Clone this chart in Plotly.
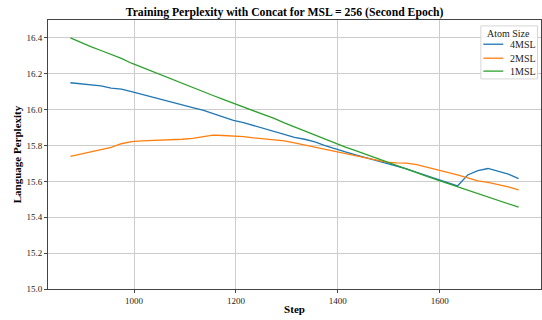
import plotly.graph_objects as go

# Training steps (second epoch)
steps = [875, 895, 915, 935, 955, 975, 995, 1015, 1035, 1055, 1075, 1095, 1115,
         1135, 1155, 1175, 1195, 1215, 1235, 1255, 1275, 1295, 1315, 1335, 1355,
         1375, 1395, 1415, 1435, 1455, 1475, 1495, 1515, 1535, 1555, 1575, 1595,
         1615, 1635, 1655, 1675, 1695, 1715, 1735, 1755]

# Language perplexity per atom size
ppl_4msl = [16.150, 16.145, 16.140, 16.133, 16.120, 16.114, 16.100, 16.086, 16.072,
            16.058, 16.042, 16.027, 16.012, 15.997, 15.978, 15.958, 15.940, 15.928,
            15.912, 15.895, 15.878, 15.860, 15.845, 15.835, 15.820, 15.800, 15.780,
            15.764, 15.748, 15.733, 15.718, 15.703, 15.686, 15.670, 15.651, 15.632,
            15.611, 15.596, 15.575, 15.636, 15.660, 15.672, 15.655, 15.640, 15.615]

ppl_2msl = [15.740, 15.752, 15.765, 15.775, 15.790, 15.810, 15.822, 15.826, 15.828,
            15.829, 15.832, 15.835, 15.840, 15.850, 15.858, 15.856, 15.854, 15.850,
            15.843, 15.838, 15.835, 15.826, 15.815, 15.803, 15.793, 15.782, 15.770,
            15.757, 15.745, 15.733, 15.722, 15.707, 15.703, 15.702, 15.693, 15.680,
            15.664, 15.652, 15.637, 15.620, 15.603, 15.595, 15.584, 15.570, 15.553]

ppl_1msl = [16.400, 16.374, 16.352, 16.330, 16.308, 16.286, 16.259, 16.236, 16.214,
            16.193, 16.170, 16.146, 16.122, 16.101, 16.079, 16.057, 16.036, 16.017,
            15.996, 15.975, 15.951, 15.926, 15.903, 15.880, 15.858, 15.834, 15.811,
            15.791, 15.771, 15.750, 15.730, 15.709, 15.688, 15.667, 15.648, 15.628,
            15.609, 15.590, 15.570, 15.550, 15.529, 15.513, 15.495, 15.476, 15.456]

series_names = ["4MSL", "2MSL", "1MSL"]
series_colors = ["#1f77b4", "#ff7f0e", "#2ca02c"]
legend_title = "Atom Size"

serif = "Liberation Serif, Times New Roman, serif"

fig = go.Figure()
for name, vals, color in zip(series_names, [ppl_4msl, ppl_2msl, ppl_1msl], series_colors):
    fig.add_trace(go.Scatter(x=steps, y=vals, mode="lines", name=name, showlegend=False,
                             line=dict(color=color, width=1.3)))

# Compact legend box drawn in paper coordinates (top-right of the plot area)
shapes = [dict(type="rect", xref="paper", yref="paper",
               x0=0.878, x1=0.993, y0=0.781, y1=0.978,
               line=dict(color="#d6d6d6", width=1), fillcolor="rgba(255,255,255,0.85)",
               layer="above")]
annotations = [dict(text=legend_title, xref="paper", yref="paper", x=0.935, y=0.951,
                    xanchor="center", yanchor="middle", showarrow=False,
                    font=dict(family=serif, size=10, color="#222"))]
entry_y = [0.910, 0.858, 0.810]
for name, color, ey in zip(series_names, series_colors, entry_y):
    shapes.append(dict(type="line", xref="paper", yref="paper", x0=0.883, x1=0.9235,
                       y0=ey, y1=ey, line=dict(color=color, width=1.3), layer="above"))
    annotations.append(dict(text=name, xref="paper", yref="paper", x=0.933, y=ey,
                            xanchor="left", yanchor="middle", showarrow=False,
                            font=dict(family=serif, size=10, color="#222")))

fig.update_layout(
    width=542, height=320,
    margin=dict(l=48, r=1, t=20, b=31),
    plot_bgcolor="white", paper_bgcolor="white",
    font=dict(family=serif, size=9, color="#222"),
    title=dict(text="<b>Training Perplexity with Concat for MSL = 256 (Second Epoch)</b>",
               x=0.525, xanchor="center", y=1 - 12 / 320, yanchor="middle",
               yref="container", font=dict(family=serif, size=11.7, color="black")),
    shapes=shapes,
    annotations=annotations,
)

axis_common = dict(showline=True, linecolor="#444", linewidth=1, mirror=True,
                   showgrid=True, gridcolor="#cccccc", gridwidth=1,
                   ticks="outside", ticklen=3, tickcolor="#444", zeroline=False,
                   tickfont=dict(family=serif, size=9, color="#222"))

fig.update_xaxes(range=[831, 1799], tickvals=[1000, 1200, 1400, 1600],
                 title=dict(text="<b>Step</b>", font=dict(family=serif, size=11, color="black"),
                            standoff=0),
                 **axis_common)
fig.update_yaxes(range=[15.0, 16.5], tickvals=[15.0, 15.2, 15.4, 15.6, 15.8, 16.0, 16.2, 16.4],
                 tickformat=".1f",
                 title=dict(text="<b>Language Perplexity</b>",
                            font=dict(family=serif, size=11, color="black"), standoff=2),
                 **axis_common)

fig.write_html("out.html")
